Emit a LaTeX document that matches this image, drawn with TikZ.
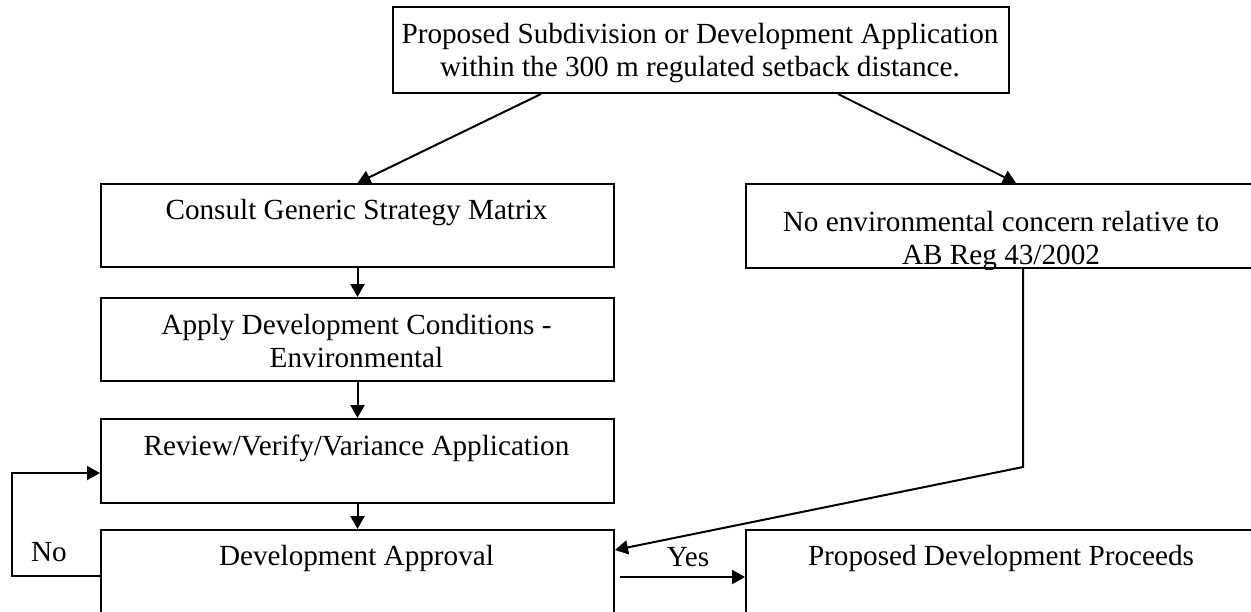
\documentclass[tikz,border=0pt]{standalone}
\usepackage{fontspec}
\setmainfont{Liberation Serif}
\usetikzlibrary{arrows.meta}

\begin{document}
\begin{tikzpicture}[
	x=0.5pt,y=-0.5pt,
	line width=1pt,
	box/.style={rectangle,draw,anchor=north west,inner sep=0pt},
	txt/.style={align=center,font=\fontsize{14.6}{16.5}\selectfont},
	arr/.style={-{Triangle[length=6.5pt,width=7pt]}}
]
	\useasboundingbox (0,0) rectangle (1251,611);
	\clip (0,0) rectangle (1251,611);
	% boxes
	\node[box,minimum width=308pt,minimum height=43pt] (proposal) at (392,6) {};
	\node[box,minimum width=256.5pt,minimum height=41.5pt] (consult) at (100,183) {};
	\node[box,minimum width=256.5pt,minimum height=41.5pt] (apply) at (100,297) {};
	\node[box,minimum width=256.5pt,minimum height=42pt] (review) at (100,418) {};
	\node[box,minimum width=256.5pt,minimum height=55.5pt] (approval) at (100,529) {};
	\node[box,minimum width=256pt,minimum height=42pt] (noconcern) at (745,183) {};
	\node[box,minimum width=256pt,minimum height=55.5pt] (proceeds) at (745,529) {};
	% texts
	\node[txt] (proposal-t) at (700,53) {Proposed Subdivision or Development Application\\within the 300 m regulated setback distance.};
	\node[txt] (consult-t) at (356.5,213) {Consult Generic Strategy Matrix};
	\node[txt] (apply-t) at (356.5,341) {Apply Development Conditions -\\Environmental};
	\node[txt] (review-t) at (356.5,448) {Review/Verify/Variance Application};
	\node[txt] (approval-t) at (356.5,558) {Development Approval};
	\begin{scope}
		\clip (noconcern.north west) rectangle (noconcern.south east);
		\node[txt] (noconcern-t) at (1001,241) {No environmental concern relative to\\AB Reg 43/2002};
	\end{scope}
	\node[txt] (proceeds-t) at (1001,558) {Proposed Development Proceeds};
	\node[txt] (no) at (49,552) {No};
	\node[txt] (yes) at (688,557) {Yes};
	% arrows
	\draw[arr] ([xshift=-80pt]proposal.south) -- (consult.north);
	\draw[arr] ([xshift=68.5pt]proposal.south) -- ([xshift=7pt]noconcern.north);
	\draw[arr] (consult.south) -- (apply.north);
	\draw[arr] (apply.south) -- (review.north);
	\draw[arr] (review.south) -- (approval.north);
	\draw[arr] ([xshift=10.5pt]noconcern.south) -- ++(0,198) -- ([yshift=-10.5pt]approval.north east);
	\draw[arr] ([yshift=-23.5pt]approval.north west) -- ++(-88,0) |- ([yshift=-6pt]review.west);
	\coordinate (yesstart) at ([xshift=2.5pt,yshift=-24pt]approval.north east);
	\draw[arr] (yesstart) -- (yesstart -| proceeds.west);
\end{tikzpicture}
\end{document}
